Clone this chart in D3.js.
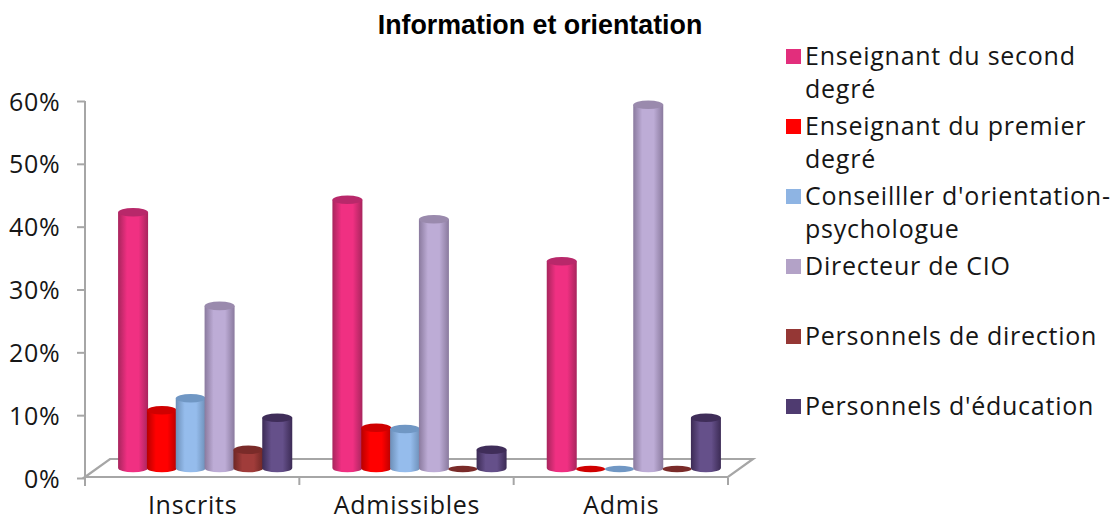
<!DOCTYPE html>
<html lang="fr">
<head>
<meta charset="utf-8">
<script src="https://d3js.org/d3.v7.min.js"></script>
<style>
html,body{margin:0;padding:0;background:#fff;}
svg{display:block;}
.lab{font-family:"Open Sans",Lato,sans-serif;font-size:25px;fill:#161616;letter-spacing:0.75px;}
.title{font-family:"Liberation Sans",Arial,sans-serif;font-weight:700;font-size:26.8px;fill:#000;}
</style>
</head>
<body>
<svg id="chart" width="1118" height="522"></svg>
<script>
// Percentages per exam stage, one array per staff category
const categories = ["Inscrits", "Admissibles", "Admis"];
const tickValues = [0, 10, 20, 30, 40, 50, 60];
const enseignantSecond = [40.7, 42.7, 32.9];
const enseignantPremier = [9.2, 6.4, 0];
const conseiller = [11.1, 6.2, 0];
const directeur = [25.8, 39.6, 57.8];
const direction = [2.9, 0, 0];
const education = [8.0, 2.9, 8.0];

const seriesNames = [
  ["Enseignant du second", "degré"],
  ["Enseignant du premier", "degré"],
  ["Conseilller d'orientation-", "psychologue"],
  ["Directeur de CIO"],
  ["Personnels de direction"],
  ["Personnels d'éducation"]
];
const seriesValues = [enseignantSecond, enseignantPremier, conseiller, directeur, direction, education];
const swatchColors = ["#e22e7c", "#ff0000", "#8eb4e3", "#b3a2c7", "#953735", "#4f3b70"];
const edgeColors = ["#a8255d", "#b80000", "#6d8fb8", "#8a7a9e", "#6e2725", "#3c2b55"];
const midColors = ["#f03082", "#ff0000", "#95bcec", "#bdacd6", "#a03c3a", "#65508a"];
const capColors = ["#b8286a", "#d00000", "#7097c4", "#9a8aad", "#7a2b29", "#3f2d59"];

const svg = d3.select("#chart");
const axisColor = "#a6a6a6";

// Plot frame: the floor is a parallelogram receding up and to the right
const plotLeft = 85, plotRight = 728, plotBottom = 478, plotTop = 101;
const depthX = 25, depthY = 18;

const y = d3.scaleLinear().domain([0, 60]).range([plotBottom, plotTop]);
const x = d3.scaleBand().domain(categories).range([plotLeft, plotRight]).padding(0);
const barSpan = 173;
const xSeries = d3.scaleBand().domain(d3.range(seriesNames.length)).range([0, barSpan]);

// Horizontal shading gives each column its rounded look
const defs = svg.append("defs");
seriesNames.forEach((_, i) => {
  const g = defs.append("linearGradient").attr("id", "cyl" + i)
    .attr("x1", 0).attr("x2", 1).attr("y1", 0).attr("y2", 0);
  g.append("stop").attr("offset", "0%").attr("stop-color", edgeColors[i]);
  g.append("stop").attr("offset", "30%").attr("stop-color", midColors[i]);
  g.append("stop").attr("offset", "68%").attr("stop-color", midColors[i]);
  g.append("stop").attr("offset", "100%").attr("stop-color", edgeColors[i]);
});

// Floor
const floorPts = [[plotLeft, plotBottom - 1], [plotLeft + depthX, plotBottom - depthY - 1], [plotRight + depthX, plotBottom - depthY - 1], [plotRight, plotBottom - 1]];
svg.append("path")
  .attr("d", d3.line()(floorPts) + "Z")
  .attr("fill", "#fff").attr("stroke", axisColor).attr("stroke-width", 2.2);

// Vertical axis
const yAxis = svg.append("g").attr("transform", `translate(${plotLeft},0)`)
  .call(d3.axisLeft(y).tickValues(tickValues).tickSize(8).tickPadding(0).tickFormat(d => d + "%"));
yAxis.selectAll("path,line").attr("stroke", axisColor).attr("stroke-width", 2);
yAxis.select(".domain").attr("d", `M0,${plotTop}V${plotBottom + 8}`);
yAxis.selectAll("text").attr("class", "lab").attr("font-family", null).attr("font-size", null)
  .attr("x", -24.5).attr("dy", null).attr("dominant-baseline", null)
  .attr("transform", "translate(0,9)");

// Horizontal axis ticks sit on the category boundaries
const boundaries = categories.map(c => x(c)).concat(plotRight);
svg.append("g").selectAll("line").data(boundaries).join("line")
  .attr("x1", d => d).attr("x2", d => d)
  .attr("y1", plotBottom).attr("y2", plotBottom + 7)
  .attr("stroke", axisColor).attr("stroke-width", 2);
svg.append("g").selectAll("text").data(categories).join("text")
  .attr("class", "lab").attr("text-anchor", "middle")
  .attr("x", d => x(d) + x.bandwidth() / 2 + 0.5).attr("y", 514)
  .text(d => d);

// Columns
const barW = 30, capRy = 4.3, offX = 13 + (x.bandwidth() - barSpan) / 2, offY = 10;
const columns = [];
categories.forEach((c, ci) => {
  seriesValues.forEach((vals, si) => columns.push({c, si, v: vals[ci]}));
});
const barLayer = svg.append("g");
columns.forEach(d => {
  const x0 = x(d.c) + offX + xSeries(d.si) + xSeries.bandwidth() / 2 - barW / 2;
  const x1 = x0 + barW;
  const yTop = y(d.v) - offY;
  const yBase = y(0) - offY;
  const cx = (x0 + x1) / 2;
  if (d.v > 0) {
    barLayer.append("path")
      .attr("d", `M${x0},${yTop}L${x0},${yBase}A${barW / 2},${capRy} 0 0 0 ${x1},${yBase}L${x1},${yTop}Z`)
      .attr("fill", `url(#cyl${d.si})`);
  }
  // A zero value leaves only a flat disc on the floor
  barLayer.append("ellipse")
    .attr("cx", cx).attr("cy", d.v > 0 ? yTop : yBase + 1)
    .attr("rx", d.v > 0 ? barW / 2 : barW / 2 - 0.5).attr("ry", d.v > 0 ? capRy : 3.3)
    .attr("fill", capColors[d.si]);
});

// Title
svg.append("text").attr("class", "title").attr("text-anchor", "middle")
  .attr("x", 540).attr("y", 33.5).text("Information et orientation");

// Legend
const legendTop = 49, legendStep = 70;
const legend = svg.append("g").selectAll("g").data(seriesNames).join("g")
  .attr("transform", (d, i) => `translate(786,${legendTop + i * legendStep})`);
legend.append("rect").attr("width", 15).attr("height", 15).attr("fill", (d, i) => swatchColors[i]);
legend.each(function (lines) {
  d3.select(this).selectAll("text").data(lines).join("text")
    .attr("class", "lab").attr("x", 19).attr("y", (d, i) => 16 + i * 32.5)
    .text(d => d);
});
</script>
</body>
</html>
